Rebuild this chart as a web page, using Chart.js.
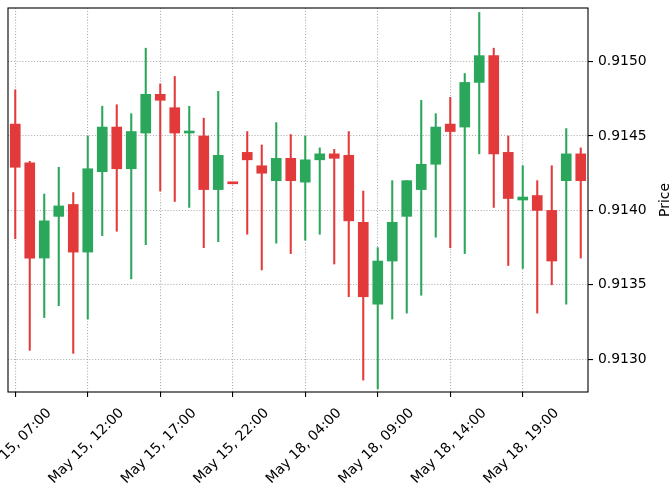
<!DOCTYPE html>
<html>
<head>
<meta charset="utf-8">
<script src="https://cdn.jsdelivr.net/npm/chart.js@4.4.1/dist/chart.umd.min.js"></script>
<style>
html,body{margin:0;padding:0;background:#fff;}
#wrap{width:672px;height:490px;position:relative;}
</style>
</head>
<body>
<div id="wrap"><canvas id="c"></canvas></div>
<script>
const categories = [
  "May 15, 07:00","May 15, 08:00","May 15, 09:00","May 15, 10:00","May 15, 11:00",
  "May 15, 12:00","May 15, 13:00","May 15, 14:00","May 15, 15:00","May 15, 16:00",
  "May 15, 17:00","May 15, 18:00","May 15, 19:00","May 15, 20:00","May 15, 21:00",
  "May 15, 22:00","May 15, 23:00","May 18, 01:00","May 18, 02:00","May 18, 03:00",
  "May 18, 04:00","May 18, 05:00","May 18, 06:00","May 18, 07:00","May 18, 08:00",
  "May 18, 09:00","May 18, 10:00","May 18, 11:00","May 18, 12:00","May 18, 13:00",
  "May 18, 14:00","May 18, 15:00","May 18, 16:00","May 18, 17:00","May 18, 18:00",
  "May 18, 19:00","May 18, 20:00","May 18, 21:00","May 18, 22:00","May 18, 23:00"
];
const opens = [
  0.91458,0.91432,0.91368,0.91396,0.91404,0.91372,0.91426,0.91456,0.91428,0.91452,
  0.91478,0.91469,0.91452,0.91450,0.91414,0.914181,0.91439,0.91430,0.91420,0.91435,
  0.91419,0.91434,0.91438,0.91437,0.91392,0.91337,0.91366,0.91396,0.91414,0.91431,
  0.91458,0.91456,0.91486,0.91504,0.91439,0.91407,0.91410,0.91400,0.91420,0.91438
];
const highs = [
  0.91481,0.91433,0.91411,0.91429,0.91412,0.91450,0.91470,0.91471,0.91465,0.91509,
  0.91485,0.91490,0.91470,0.91462,0.91480,0.914182,0.91453,0.91444,0.91459,0.91451,
  0.91450,0.91442,0.91441,0.91453,0.91413,0.91375,0.91420,0.91420,0.91474,0.91465,
  0.91476,0.91492,0.91533,0.91509,0.91450,0.91430,0.91420,0.91430,0.91455,0.91442
];
const lows = [
  0.91381,0.91306,0.91328,0.91336,0.91304,0.91327,0.91383,0.91386,0.91354,0.91377,
  0.91413,0.91406,0.91402,0.91375,0.91379,0.914178,0.91384,0.91360,0.91378,0.91371,
  0.91380,0.91384,0.91364,0.91342,0.91286,0.91280,0.91327,0.91331,0.91343,0.91382,
  0.91375,0.91371,0.91438,0.91402,0.91363,0.91361,0.91331,0.91350,0.91337,0.91368
];
const closes = [
  0.91429,0.91368,0.91393,0.91403,0.91372,0.91428,0.91456,0.91428,0.91453,0.91478,
  0.91474,0.91452,0.91453,0.91414,0.91437,0.914179,0.91434,0.91425,0.91435,0.91420,
  0.91434,0.91438,0.91435,0.91393,0.91342,0.91366,0.91392,0.91420,0.91431,0.91456,
  0.91453,0.91486,0.91504,0.91438,0.91408,0.91409,0.91400,0.91366,0.91438,0.91420
];
const yTicks = [0.9130, 0.9135, 0.9140, 0.9145, 0.9150];
const yMin = 0.91278, yMax = 0.91536;

const UP = '#2aa75a', DOWN = '#e23a3a';
const colors = closes.map((c, i) => c >= opens[i] ? UP : DOWN);
const bodies = opens.map((o, i) => [Math.min(o, closes[i]), Math.max(o, closes[i])]);
const wicks = lows.map((l, i) => [l, highs[i]]);

const FONT = "'DejaVu Sans', sans-serif";
const FS = 13.9;

const framePlugin = {
  id: 'frame',
  afterDraw(chart) {
    const {ctx, chartArea: a} = chart;
    ctx.save();
    ctx.strokeStyle = '#000';
    ctx.lineWidth = 1.1;
    ctx.strokeRect(a.left, a.top, a.right - a.left, a.bottom - a.top);
    ctx.translate(665, (a.top + a.bottom) / 2);
    ctx.rotate(-Math.PI / 2);
    ctx.fillStyle = '#000';
    ctx.font = FS + 'px ' + FONT;
    ctx.textAlign = 'center';
    ctx.textBaseline = 'middle';
    ctx.fillText('Price', 0, 0);
    ctx.restore();
  }
};

new Chart(document.getElementById('c'), {
  type: 'bar',
  data: {
    labels: categories,
    datasets: [
      {
        label: 'body',
        data: bodies,
        backgroundColor: colors,
        borderColor: colors,
        borderWidth: 0,
        barThickness: 10,
        minBarLength: 2,
        grouped: false
      },
      {
        label: 'wick',
        data: wicks,
        backgroundColor: colors,
        borderWidth: 0,
        barThickness: 1.4,
        grouped: false
      }
    ]
  },
  options: {
    animation: false,
    responsive: true,
    maintainAspectRatio: false,
    layout: {padding: {left: 8, top: 8, right: 0, bottom: 0}},
    plugins: {legend: {display: false}, tooltip: {enabled: false}},
    scales: {
      x: {
        type: 'category',
        offset: true,
        border: {display: false, dash: [1.1, 1.8]},
        grid: {
          offset: false,
          color: '#b0b0b0',
          lineWidth: (ctx) => (ctx.index % 5 === 0 ? 1.1 : 0),
          tickWidth: (ctx) => (ctx.index % 5 === 0 ? 1.1 : 0),
          tickColor: '#000',
          tickBorderDash: [],
          tickLength: 5,
          drawTicks: true
        },
        ticks: {
          autoSkip: false,
          maxRotation: 45,
          minRotation: 45,
          labelOffset: 34,
          padding: 8,
          color: '#000',
          font: {family: FONT, size: FS},
          callback: function (value, index) {
            return index % 5 === 0 ? this.getLabelForValue(value) : '';
          }
        },
        afterFit: (s) => { s.height = 98; s.paddingLeft = 0; s.paddingRight = 0; }
      },
      y: {
        type: 'linear',
        position: 'right',
        min: yMin,
        max: yMax,
        border: {display: false, dash: [1.1, 1.8]},
        grid: {
          color: '#b0b0b0',
          lineWidth: 1.1,
          tickColor: '#000',
          tickBorderDash: [],
          tickWidth: 1.1,
          tickLength: 5
        },
        ticks: {
          padding: 5,
          color: '#000',
          font: {family: FONT, size: FS},
          callback: (v) => Number(v).toFixed(4)
        },
        afterBuildTicks: (s) => { s.ticks = yTicks.map(v => ({value: v})); },
        afterFit: (s) => { s.width = 84; s.paddingTop = 0; s.paddingBottom = 0; }
      }
    }
  },
  plugins: [framePlugin]
});
</script>
</body>
</html>
